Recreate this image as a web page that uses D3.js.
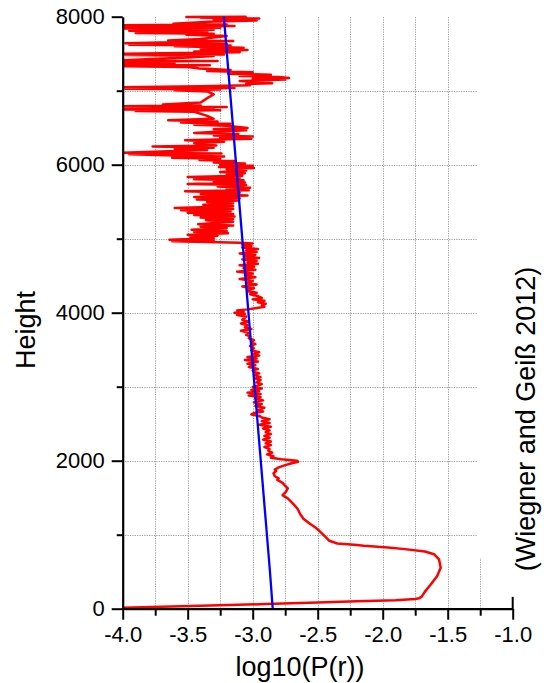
<!DOCTYPE html>
<html><head><meta charset="utf-8">
<script src="https://cdn.jsdelivr.net/npm/d3@7"></script>
<style>body{margin:0;background:#fff} svg{display:block} text{font-family:"Liberation Sans",Arial,sans-serif;fill:#000}</style>
</head><body><svg id="c" width="554" height="683"></svg>
<script>
// ---- data ----
// red profile: [height, log10(P(r))], from top to bottom
const redProfile = [
[8000,-3.05],[7995,-3.51],[7990,-3.05],[7985,-3.4],[7975,-2.95],[7960,-3.3],[7950,-2.97],[7935,-3.3],[7905,-3.61],[7895,-3.2],
[7885,-4.0],[7875,-3.14],[7865,-4.0],[7850,-3.25],[7840,-4.0],[7825,-3.3],[7810,-3.95],[7795,-3.35],[7780,-3.9],[7770,-3.3],
[7757,-3.51],[7740,-3.2],[7700,-3.4],[7680,-3.65],[7670,-3.15],[7640,-3.98],[7630,-3.2],[7620,-3.95],[7610,-3.17],[7600,-3.6],
[7580,-3.07],[7565,-3.4],[7550,-3.04],[7530,-3.45],[7520,-3.1],[7500,-4.0],[7490,-3.22],[7482,-3.98],[7470,-3.3],[7450,-3.5],
[7410,-4.0],[7400,-3.27],[7390,-4.0],[7375,-3.6],[7360,-4.0],[7345,-3.33],[7330,-4.0],[7320,-3.5],[7300,-3.41],[7280,-3.17],
[7265,-3.35],[7250,-3.0],[7230,-3.19],[7215,-2.86],[7200,-3.1],[7185,-2.8],[7170,-2.72],[7160,-3.0],[7150,-2.75],[7130,-3.1],
[7115,-2.95],[7100,-2.85],[7090,-3.05],[7075,-3.02],[7060,-3.4],[7045,-4.0],[7035,-3.14],[7025,-3.98],[7015,-3.25],[7005,-3.6],
[6990,-3.35],[6950,-3.3],[6900,-3.35],[6840,-3.4],[6815,-3.69],[6800,-3.4],[6790,-4.0],[6780,-3.2],[6770,-3.98],[6760,-3.3],
[6745,-4.0],[6735,-3.25],[6725,-3.9],[6715,-3.45],[6660,-3.35],[6620,-3.3],[6600,-3.65],[6585,-3.27],[6570,-3.55],[6555,-3.17],
[6540,-3.45],[6525,-3.2],[6495,-3.04],[6480,-3.3],[6465,-3.05],[6450,-3.25],[6430,-3.45],[6415,-3.11],[6395,-3.3],[6380,-3.0],
[6365,-3.25],[6350,-3.01],[6330,-3.52],[6310,-3.22],[6290,-3.45],[6260,-3.28],[6245,-3.77],[6230,-3.3],[6215,-3.6],[6200,-3.35],
[6160,-4.0],[6150,-3.24],[6140,-3.95],[6125,-3.6],[6110,-3.22],[6095,-3.62],[6080,-3.25],[6065,-3.41],[6050,-3.14],[6030,-3.3],
[6015,-3.06],[6000,-3.25],[5985,-3.0],[5970,-3.26],[5955,-2.99],[5940,-3.2],[5920,-3.05],[5900,-3.25],[5885,-3.06],[5865,-3.2],
[5850,-3.08],[5835,-3.5],[5820,-3.1],[5805,-3.45],[5790,-3.07],[5775,-3.3],[5760,-3.06],[5740,-3.5],[5725,-3.05],[5705,-3.27],
[5690,-3.02],[5670,-3.2],[5655,-3.03],[5640,-3.52],[5620,-3.1],[5605,-3.4],[5585,-3.04],[5565,-3.45],[5545,-3.1],[5530,-3.43],
[5515,-3.11],[5495,-3.35],[5475,-3.15],[5460,-3.38],[5440,-3.15],[5415,-3.6],[5400,-3.15],[5385,-3.55],[5370,-3.17],[5350,-3.5],
[5335,-3.15],[5320,-3.45],[5300,-3.14],[5285,-3.4],[5265,-3.15],[5250,-3.36],[5230,-3.15],[5195,-3.42],[5180,-3.15],[5160,-3.4],
[5145,-3.2],[5120,-3.47],[5105,-3.2],[5090,-3.45],[5075,-3.19],[5055,-3.5],[5040,-3.27],[5020,-3.48],[5005,-3.3],[4985,-3.64],
[4975,-3.3],[4965,-3.62],[4955,-3.35],[4945,-3.1],[4935,-3.0],[4920,-3.08],[4900,-3.01],[4880,-3.08],[4860,-2.96],[4840,-3.05],
[4820,-2.97],[4800,-3.1],[4780,-2.98],[4760,-3.06],[4740,-2.95],[4720,-3.08],[4700,-2.97],[4680,-3.04],[4660,-2.96],[4640,-3.1],
[4620,-2.99],[4600,-3.07],[4580,-2.98],[4555,-3.12],[4530,-3.0],[4505,-3.06],[4480,-2.98],[4455,-3.1],[4430,-3.0],[4405,-3.05],
[4380,-2.97],[4355,-3.08],[4330,-2.99],[4310,-3.04],[4290,-3.04],[4270,-2.97],[4250,-3.02],[4225,-2.96],[4200,-2.93],[4180,-3.0],
[4160,-2.91],[4140,-2.96],[4120,-2.9],[4100,-2.93],[4080,-2.91],[4060,-2.98],[4045,-3.04],[4030,-3.12],[4015,-3.07],[4000,-3.14],
[3985,-3.06],[3970,-3.12],[3950,-3.05],[3930,-3.06],[3905,-3.08],[3880,-3.03],[3855,-3.09],[3830,-3.04],[3800,-3.06],[3780,-3.01],
[3755,-3.09],[3730,-3.03],[3700,-3.05],[3680,-3.02],[3655,-3.03],[3630,-2.99],[3600,-3.01],[3575,-2.98],[3550,-3.02],[3520,-2.99],
[3490,-3.01],[3465,-2.95],[3445,-2.99],[3420,-2.95],[3400,-3.04],[3380,-2.97],[3360,-3.06],[3340,-2.96],[3310,-3.04],[3290,-2.98],
[3265,-3.03],[3240,-2.96],[3220,-3.0],[3200,-2.99],[3180,-2.95],[3160,-2.99],[3130,-2.94],[3110,-2.98],[3090,-2.94],[3060,-2.97],
[3035,-2.93],[3010,-2.97],[2995,-3.0],[2975,-2.93],[2955,-3.01],[2940,-2.95],[2920,-3.04],[2900,-2.94],[2880,-3.03],[2860,-2.94],
[2840,-2.98],[2815,-2.92],[2790,-2.99],[2765,-2.93],[2740,-2.98],[2715,-2.91],[2690,-2.96],[2665,-2.92],[2645,-2.99],[2625,-3.01],
[2605,-2.95],[2585,-2.93],[2560,-2.87],[2535,-2.93],[2510,-2.87],[2485,-2.95],[2460,-2.86],[2435,-2.92],[2410,-2.87],[2385,-2.9],
[2360,-2.86],[2335,-2.91],[2310,-2.87],[2285,-2.92],[2260,-2.86],[2235,-2.9],[2210,-2.86],[2185,-2.91],[2160,-2.87],[2135,-2.88],
[2110,-2.85],[2085,-2.89],[2060,-2.84],[2040,-2.86],[2020,-2.78],[2000,-2.66],[1985,-2.65],[1965,-2.7],[1940,-2.75],[1910,-2.8],
[1880,-2.83],[1860,-2.82],[1830,-2.84],[1790,-2.83],[1760,-2.8],[1740,-2.81],[1700,-2.77],[1670,-2.755],[1625,-2.73],[1580,-2.745],
[1535,-2.77],[1510,-2.75],[1490,-2.73],[1420,-2.69],[1350,-2.655],[1283,-2.636],[1215,-2.61],[1147,-2.56],[1100,-2.52],[1056,-2.49],
[987,-2.45],[918,-2.41],[881,-2.35],[865,-2.22],[850,-2.145],[827,-1.96],[805,-1.83],[773,-1.675],[736,-1.605],[667,-1.567],
[552,-1.554],[437,-1.582],[323,-1.632],[231,-1.675],[163,-1.70],[140,-1.72],[131,-1.75],[115,-1.9],[100,-2.2],[85,-2.5],
[62,-2.9],[39,-3.4],[14,-4.0]
];
const blueHeight = [0, 520, 8000];
const blueLogP   = [-2.846, -2.868, -3.222];

const xMajorTicks = [-4.0,-3.5,-3.0,-2.5,-2.0,-1.5,-1.0];
const xTickLabels = ["-4.0","-3.5","-3.0","-2.5","-2.0","-1.5","-1.0"];
const xMinorTicks = [-3.75,-3.25,-2.75,-2.25,-1.75,-1.25];
const yMajorTicks = [0,2000,4000,6000,8000];
const yTickLabels = ["0","2000","4000","6000","8000"];
const yMinorTicks = [1000,3000,5000,7000];
const xGridFull = [-3.75,-3.5,-3.25,-3.0,-2.75,-2.5,-2.25,-2.0,-1.75,-1.5];
const xGridShort = [-1.25];
const yGrid = [1000,2000,3000,4000,5000,6000,7000];
const xTitle = "log10(P(r))";
const yTitle = "Height";
const sourceNote = "(Wiegner and Geiß 2012)";

// ---- drawing ----
const svg = d3.select("#c");
const x = d3.scaleLinear().domain([-4, -1]).range([122.7, 512.7]);
const y = d3.scaleLinear().domain([0, 8000]).range([608.7, 16.7]);
const gridRightValue = -1.275, shortGridTop = 685, endStubTop = 160;

svg.append("clipPath").attr("id","clip").append("rect")
  .attr("x", x(-4)).attr("y", 0).attr("width", 554 - x(-4)).attr("height", y(0));

const grid = svg.append("g").attr("stroke","#9a9a9a").attr("stroke-width",1).attr("stroke-dasharray","1.2,1.2").attr("fill","none");
grid.selectAll(".gx").data(xGridFull).join("line")
  .attr("x1", d=>Math.round(x(d))+0.5).attr("x2", d=>Math.round(x(d))+0.5).attr("y1", y(0)).attr("y2", y(8000));
grid.selectAll(".gs").data(xGridShort).join("line")
  .attr("x1", d=>Math.round(x(d))+0.5).attr("x2", d=>Math.round(x(d))+0.5).attr("y1", y(0)).attr("y2", y(shortGridTop));
grid.selectAll(".gy").data(yGrid).join("line")
  .attr("x1", x(-4)).attr("x2", x(gridRightValue)).attr("y1", d=>Math.round(y(d))+0.5).attr("y2", d=>Math.round(y(d))+0.5);

const profileLine = d3.line().x(d=>x(d[1])).y(d=>y(d[0]));
svg.append("path").datum(redProfile).attr("clip-path","url(#clip)")
  .attr("d", profileLine).attr("fill","none").attr("stroke","#ff0000").attr("stroke-width",2.5).attr("stroke-linejoin","round");

const blueData = blueHeight.map((h,i)=>[h, blueLogP[i]]);
svg.append("path").datum(blueData)
  .attr("d", profileLine).attr("fill","none").attr("stroke","#0000ff").attr("stroke-width",2.3);

// axes
function styleAxis(g){
  g.select(".domain").attr("stroke","#000").attr("stroke-width",2.2);
  g.selectAll(".tick line").attr("stroke","#000").attr("stroke-width",2);
  g.selectAll(".tick text").style("font-size","22px").attr("fill","#000");
}
const xAxisMinor = svg.append("g").attr("transform",`translate(0,${y(0)})`)
  .call(d3.axisBottom(x).tickValues(xMinorTicks).tickSize(7).tickFormat(""));
xAxisMinor.select(".domain").remove();
xAxisMinor.selectAll(".tick line").attr("stroke","#000").attr("stroke-width",2);
const xAxis = svg.append("g").attr("transform",`translate(0,${y(0)})`)
  .call(d3.axisBottom(x).tickValues(xMajorTicks).tickSize(11).tickSizeOuter(0).tickPadding(7)
    .tickFormat((d,i)=>xTickLabels[i]));
styleAxis(xAxis);
// short upward stub at the right end of the x axis
svg.append("line").attr("x1", x(-1)).attr("x2", x(-1)).attr("y1", y(0)).attr("y2", y(endStubTop))
  .attr("stroke","#000").attr("stroke-width",2);

const yAxisMinor = svg.append("g").attr("transform",`translate(${x(-4)},0)`)
  .call(d3.axisLeft(y).tickValues(yMinorTicks).tickSize(6).tickFormat(""));
yAxisMinor.select(".domain").remove();
yAxisMinor.selectAll(".tick line").attr("stroke","#000").attr("stroke-width",2);
const yAxis = svg.append("g").attr("transform",`translate(${x(-4)},0)`)
  .call(d3.axisLeft(y).tickValues(yMajorTicks).tickSize(11).tickSizeOuter(0).tickPadding(7)
    .tickFormat((d,i)=>yTickLabels[i]));
styleAxis(yAxis);

// titles
svg.append("text").attr("x",300).attr("y",676).attr("text-anchor","middle")
  .style("font-size","27px").text(xTitle);
svg.append("text").attr("transform","translate(35,330) rotate(-90)").attr("text-anchor","middle")
  .style("font-size","27px").text(yTitle);
svg.append("text").attr("transform","translate(535,419) rotate(-90)").attr("text-anchor","middle")
  .style("font-size","27px").text(sourceNote);
</script></body></html>
